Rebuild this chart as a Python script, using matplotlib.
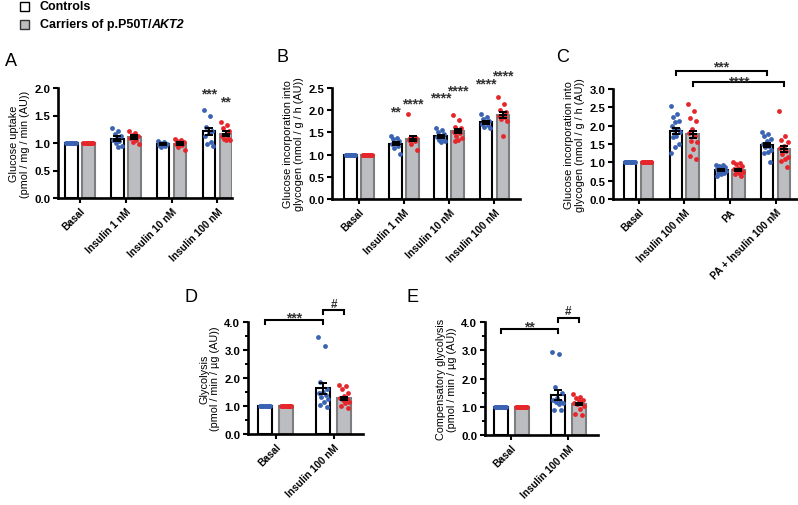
import matplotlib.pyplot as plt
import matplotlib.patches as mpatches
import numpy as np

plt.rcParams['font.family'] = ['Liberation Sans', 'DejaVu Sans']

W, H = 798, 506

ctrl_color = '#3b63b3'
carr_color = '#e5262b'
gray_fill = '#bcbdc1'
gray_edge = '#7d7d80'
star_color = '#333333'

# ---------------- data ----------------
# Panel A: glucose uptake
a_groups = ['Basal', 'Insulin 1 nM', 'Insulin 10 nM', 'Insulin 100 nM']
a_ctrl_mean = [1.0, 1.08, 0.98, 1.21]
a_ctrl_sem = [0.0, 0.04, 0.02, 0.07]
a_carr_mean = [1.0, 1.11, 0.99, 1.17]
a_carr_sem = [0.0, 0.03, 0.02, 0.04]
a_ctrl_pts = [
    [1.0] * 10,
    [1.27, 1.22, 1.16, 1.12, 1.09, 1.06, 1.04, 1.0, 0.95, 0.93],
    [1.04, 1.02, 1.0, 0.99, 0.98, 0.96, 0.95, 0.93],
    [1.6, 1.49, 1.3, 1.22, 1.18, 1.12, 1.02, 0.98, 0.94],
]
a_carr_pts = [
    [1.0] * 10,
    [1.21, 1.19, 1.15, 1.13, 1.11, 1.09, 1.06, 1.02, 0.98],
    [1.08, 1.06, 1.04, 1.02, 1.0, 0.98, 0.96, 0.92, 0.88],
    [1.38, 1.33, 1.27, 1.21, 1.16, 1.12, 1.1, 1.08, 1.06, 1.05],
]
a_ctrl_stars = ['', '', '', '***']
a_carr_stars = ['', '', '', '**']
a_ctrl_star_y = [0, 0, 0, 1.98]
a_carr_star_y = [0, 0, 0, 1.83]

# Panel B: glucose incorporation into glycogen (insulin dose)
b_groups = ['Basal', 'Insulin 1 nM', 'Insulin 10 nM', 'Insulin 100 nM']
b_ctrl_mean = [1.0, 1.25, 1.41, 1.73]
b_ctrl_sem = [0.0, 0.04, 0.04, 0.03]
b_carr_mean = [1.0, 1.36, 1.53, 1.89]
b_carr_sem = [0.0, 0.06, 0.05, 0.07]
b_ctrl_pts = [
    [1.0] * 10,
    [1.43, 1.38, 1.35, 1.31, 1.27, 1.24, 1.2, 1.15, 1.01],
    [1.59, 1.55, 1.5, 1.46, 1.43, 1.4, 1.37, 1.33, 1.3, 1.28],
    [1.91, 1.85, 1.8, 1.76, 1.73, 1.7, 1.67, 1.63, 1.61],
]
b_carr_pts = [
    [1.0] * 10,
    [1.91, 1.4, 1.38, 1.37, 1.35, 1.33, 1.3, 1.25, 1.1],
    [1.89, 1.77, 1.63, 1.6, 1.56, 1.52, 1.48, 1.43, 1.38, 1.33, 1.31],
    [2.3, 2.13, 2.0, 1.96, 1.9, 1.87, 1.84, 1.8, 1.76, 1.41],
]
b_ctrl_stars = ['', '**', '****', '****']
b_carr_stars = ['', '****', '****', '****']
b_ctrl_star_y = [0, 2.08, 2.38, 2.69]
b_carr_star_y = [0, 2.25, 2.55, 2.87]

# Panel C: glucose incorporation into glycogen (palmitate)
c_groups = ['Basal', 'Insulin 100 nM', 'PA', 'PA + Insulin 100 nM']
c_ctrl_mean = [1.0, 1.85, 0.79, 1.47]
c_ctrl_sem = [0.0, 0.09, 0.03, 0.06]
c_carr_mean = [1.0, 1.76, 0.80, 1.36]
c_carr_sem = [0.0, 0.10, 0.03, 0.09]
c_ctrl_pts = [
    [1.0] * 14,
    [2.54, 2.33, 2.24, 2.13, 2.09, 2.0, 1.91, 1.87, 1.82, 1.73, 1.68, 1.5, 1.43, 1.25],
    [0.94, 0.92, 0.9, 0.88, 0.85, 0.82, 0.8, 0.78, 0.76, 0.74, 0.72, 0.7, 0.67, 0.62],
    [1.82, 1.78, 1.73, 1.63, 1.58, 1.5, 1.45, 1.41, 1.35, 1.27, 1.25, 1.0],
]
c_carr_pts = [
    [1.0] * 12,
    [2.59, 2.39, 2.2, 2.13, 1.9, 1.79, 1.72, 1.59, 1.55, 1.36, 1.18, 1.09],
    [1.02, 0.97, 0.95, 0.9, 0.85, 0.82, 0.8, 0.77, 0.75, 0.72, 0.68, 0.64],
    [2.4, 1.73, 1.62, 1.55, 1.45, 1.38, 1.3, 1.22, 1.15, 1.08, 1.03, 0.86],
]

# Panel D: glycolysis
d_groups = ['Basal', 'Insulin 100 nM']
d_ctrl_mean = [1.0, 1.63]
d_ctrl_sem = [0.0, 0.2]
d_carr_mean = [1.0, 1.27]
d_carr_sem = [0.0, 0.06]
d_ctrl_pts = [
    [1.0] * 12,
    [3.45, 3.15, 1.85, 1.6, 1.5, 1.45, 1.4, 1.32, 1.25, 1.15, 1.05, 0.95],
]
d_carr_pts = [
    [1.0] * 12,
    [1.75, 1.7, 1.6, 1.45, 1.35, 1.3, 1.25, 1.2, 1.15, 1.1, 1.0, 0.92],
]

# Panel E: compensatory glycolysis
e_groups = ['Basal', 'Insulin 100 nM']
e_ctrl_mean = [1.0, 1.42]
e_ctrl_sem = [0.0, 0.17]
e_carr_mean = [1.0, 1.1]
e_carr_sem = [0.0, 0.05]
e_ctrl_pts = [
    [1.0] * 12,
    [2.95, 2.88, 1.7, 1.5, 1.3, 1.25, 1.22, 1.18, 1.15, 1.1, 0.9, 0.88],
]
e_carr_pts = [
    [1.0] * 12,
    [1.45, 1.35, 1.3, 1.25, 1.2, 1.15, 1.12, 1.08, 1.02, 0.92, 0.75, 0.7],
]

# ---------------- drawing ----------------
fig = plt.figure(figsize=(W / 100, H / 100), dpi=100)


def px_axes(left, right, top, bottom):
    return fig.add_axes([left / W, 1 - bottom / H, (right - left) / W, (bottom - top) / H])


def spread(n, width):
    # fixed, non-random spread of the dots across the bar
    k = np.arange(n)
    return ((k * 0.618034) % 1 - 0.5) * width * 0.8


def draw_panel(ax, groups, ctrl_mean, ctrl_sem, carr_mean, carr_sem, ctrl_pts, carr_pts,
               xlim, ymax, ystep, ppu, bar_px, off_px, minor=None):
    w = bar_px / ppu
    off = off_px / ppu
    x = np.arange(len(groups))
    ax.bar(x - off, ctrl_mean, w, color='white', edgecolor='black', linewidth=1.5, zorder=1)
    ax.bar(x + off, carr_mean, w, color=gray_fill, edgecolor=gray_edge, linewidth=1.5, zorder=1)
    for i in range(len(groups)):
        for pts, xc, c in ((ctrl_pts[i], x[i] - off, ctrl_color), (carr_pts[i], x[i] + off, carr_color)):
            pts = np.asarray(pts)
            ax.scatter(xc + spread(len(pts), w), pts, s=12, color=c, linewidths=0, zorder=2)
    for xs, m, s in ((x - off, ctrl_mean, ctrl_sem), (x + off, carr_mean, carr_sem)):
        for xi, mi, si in zip(xs, m, s):
            if si > 0:
                ax.errorbar(xi, mi, yerr=si, color='black', lw=1.4, capsize=2.7, capthick=1.4, zorder=3)
                ax.plot(xi, mi, marker='_', ms=5.5, mew=1.4, color='black', zorder=3)
    ticks = np.arange(0, ymax + 1e-9, ystep)
    ax.set_xlim(*xlim)
    ax.set_ylim(0, ymax)
    ax.set_yticks(ticks)
    ax.set_yticklabels([f'{v:.1f}' for v in ticks], fontsize=8.2, fontweight='bold')
    if minor:
        ax.set_yticks(np.arange(0, ymax + 1e-9, minor), minor=True)
        ax.tick_params(axis='y', which='minor', length=2.5, width=1.4)
    ax.set_xticks(x)
    ax.set_xticklabels(groups, rotation=45, ha='right', rotation_mode='anchor',
                       fontsize=7.3, fontweight='bold')
    ax.tick_params(axis='both', which='major', direction='out', length=3.5, width=1.5, pad=2)
    for sp in ('top', 'right'):
        ax.spines[sp].set_visible(False)
    for sp in ('left', 'bottom'):
        ax.spines[sp].set_linewidth(1.9)
    return x, off


def stars(ax, xs, ys, labels):
    for xi, yi, lab in zip(xs, ys, labels):
        if lab:
            ax.annotate(lab, xy=(xi, yi), xytext=(0, -6.0), textcoords='offset points',
                        ha='center', va='baseline', fontsize=10, fontweight='bold',
                        color=star_color, annotation_clip=False)


def bracket(ax, x1, x2, y, drop, label, label_y, fs=10, shift=-6.0):
    ax.plot([x1, x1, x2, x2], [y - drop, y, y, y - drop], color='black', lw=1.5,
            clip_on=False, solid_joinstyle='miter')
    ax.annotate(label, xy=((x1 + x2) / 2, label_y), xytext=(0, shift), textcoords='offset points',
                ha='center', va='baseline', fontsize=fs, fontweight='bold', color=star_color,
                annotation_clip=False)


# A
axA = px_axes(58, 232, 89, 199)
x, off = draw_panel(axA, a_groups, a_ctrl_mean, a_ctrl_sem, a_carr_mean, a_carr_sem,
                    a_ctrl_pts, a_carr_pts, (-0.48, 3.32), 2.0, 0.5, 45.75, 12.5, 8.5)
stars(axA, x - off, a_ctrl_star_y, a_ctrl_stars)
stars(axA, x + off, a_carr_star_y, a_carr_stars)
axA.set_ylabel('Glucose uptake\n(pmol / mg / min (AU))', fontsize=7.8, labelpad=3, linespacing=1.1)

# B
axB = px_axes(332, 520, 89, 200)
x, off = draw_panel(axB, b_groups, b_ctrl_mean, b_ctrl_sem, b_carr_mean, b_carr_sem,
                    b_ctrl_pts, b_carr_pts, (-0.6, 3.57), 2.5, 0.5, 45.0, 12.5, 8.5)
stars(axB, x - off, b_ctrl_star_y, b_ctrl_stars)
stars(axB, x + off, b_carr_star_y, b_carr_stars)
axB.set_ylabel('Glucose incorporation into\nglycogen (nmol / g / h (AU))', fontsize=7.8, labelpad=3,
               linespacing=1.1)

# C
axC = px_axes(613, 797, 90, 200)
x, off = draw_panel(axC, c_groups, c_ctrl_mean, c_ctrl_sem, c_carr_mean, c_carr_sem,
                    c_ctrl_pts, c_carr_pts, (-0.56, 3.47), 3.0, 0.5, 45.75, 12.5, 8.5)
axC.set_ylabel('Glucose incorporation into\nglycogen (nmol / g / h (AU))', fontsize=7.8, labelpad=3,
               linespacing=1.1)
bracket(axC, x[1] - off, x[3] - off, 3.5, 0.11, '***', 3.74)
bracket(axC, x[1] + off, x[3] + off, 3.2, 0.11, '****', 3.33)

# D
axD = px_axes(248, 363, 323, 435)
x, off = draw_panel(axD, d_groups, d_ctrl_mean, d_ctrl_sem, d_carr_mean, d_carr_sem,
                    d_ctrl_pts, d_carr_pts, (-0.48, 1.5), 4.0, 1.0, 58.0, 14, 10.5, minor=0.5)
axD.set_ylabel('Glycolysis\n(pmol / min / µg (AU))', fontsize=7.8, labelpad=3, linespacing=1.1)
bracket(axD, x[0] - off, x[1] - off, 4.07, 0.14, '***', 4.31)
bracket(axD, x[1] - off, x[1] + off, 4.44, 0.14, '#', 4.7, fs=8.5, shift=-3.0)

# E
axE = px_axes(485, 598, 323, 436)
x, off = draw_panel(axE, e_groups, e_ctrl_mean, e_ctrl_sem, e_carr_mean, e_carr_sem,
                    e_ctrl_pts, e_carr_pts, (-0.46, 1.52), 4.0, 1.0, 57.0, 14, 10.5, minor=0.5)
axE.set_ylabel('Compensatory glycolysis\n(pmol / min / µg (AU))', fontsize=7.8, labelpad=3,
               linespacing=1.1)
bracket(axE, x[0] - off, x[1] - off, 3.76, 0.14, '**', 3.99)
bracket(axE, x[1] - off, x[1] + off, 4.13, 0.14, '#', 4.44, fs=8.5, shift=-3.0)

# panel letters
for lab, px, py in (('A', 5, 62), ('B', 276, 58), ('C', 556, 57), ('D', 185, 297), ('E', 407, 297)):
    fig.text(px / W, 1 - py / H, lab, fontsize=13, ha='left', va='center')

# legend
for py, fc, ec in ((3, 'white', 'black'), (21, gray_fill, '#333333')):
    fig.patches.append(mpatches.Rectangle((20 / W, 1 - (py + 8.5) / H), 8.5 / W, 8.5 / H,
                                          facecolor=fc, edgecolor=ec, linewidth=1.0,
                                          transform=fig.transFigure, figure=fig))
fig.text(40 / W, 1 - 7.5 / H, 'Controls', fontsize=9, fontweight='bold', va='center', ha='left')
t2 = fig.text(40 / W, 1 - 25 / H, 'Carriers of p.P50T/', fontsize=9, fontweight='bold',
              va='center', ha='left')
plt.annotate('AKT2', xy=(1, 0.5), xycoords=t2, va='center', ha='left', fontsize=9,
             fontweight='bold', fontstyle='italic', annotation_clip=False)

fig.savefig('out.png', dpi=100)
